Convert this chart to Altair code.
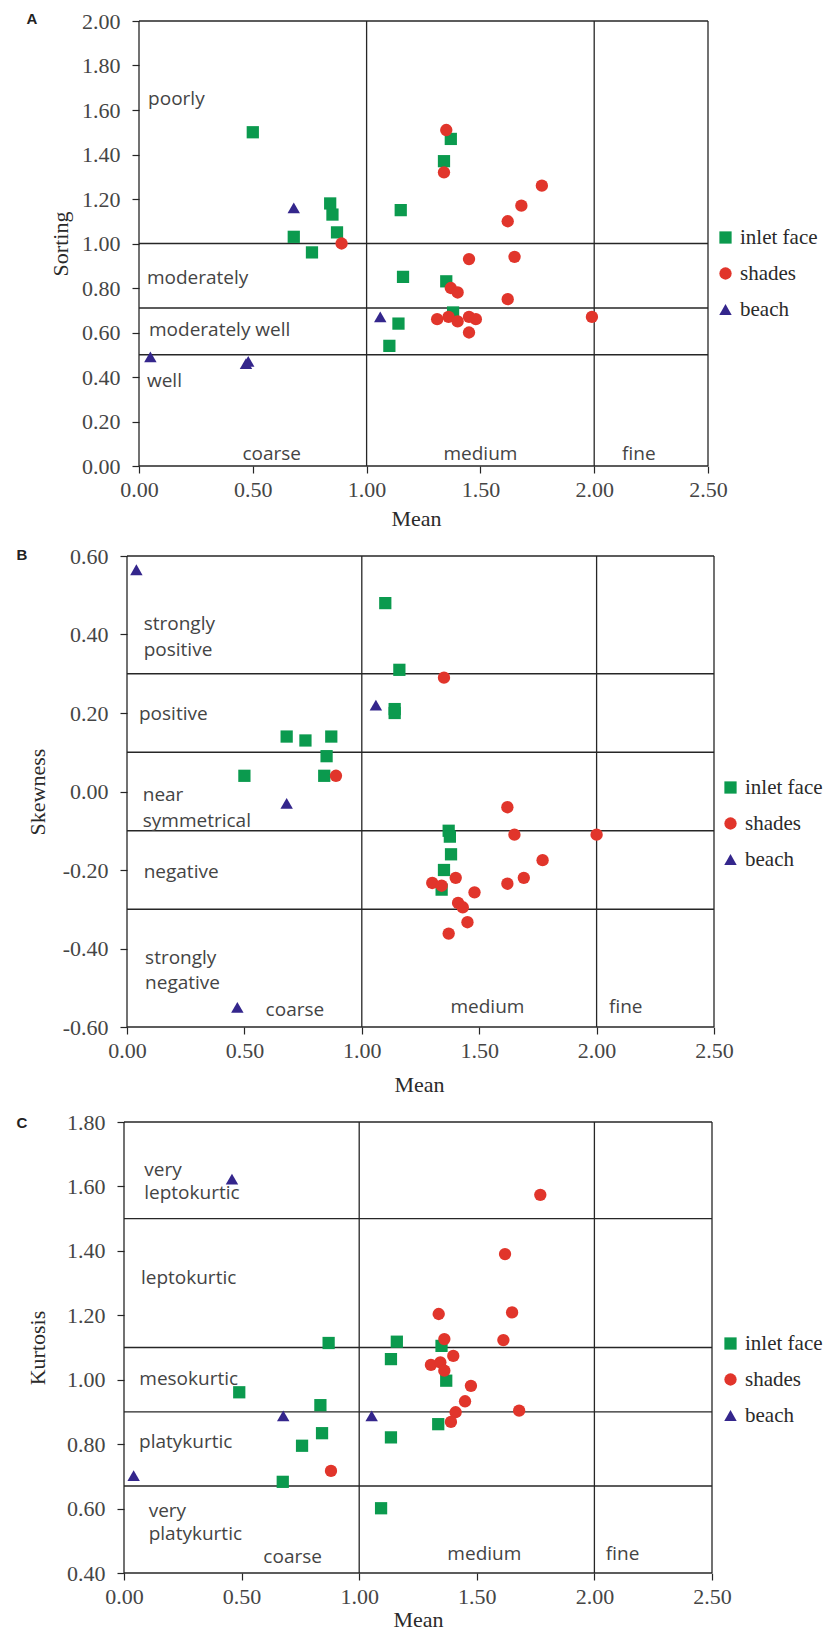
import altair as alt
import pandas as pd

SERIES = ["inlet face", "shades", "beach"]
COLORS = ["#0B9A4E", "#E1352B", "#34268C"]
SHAPES = ["square", "circle", "triangle-up"]
SIZES = [150, 155, 180]
X_TICKS = [0.0, 0.5, 1.0, 1.5, 2.0, 2.5]
SIZE_CLASSES = ["coarse", "medium", "fine"]

# ---------------- Panel A: Sorting ----------------
a_inlet_x = [0.50, 0.84, 0.85, 0.87, 0.68, 0.76, 1.15, 1.37, 1.34, 1.16, 1.14, 1.10, 1.35, 1.38]
a_inlet_y = [1.50, 1.18, 1.13, 1.05, 1.03, 0.96, 1.15, 1.47, 1.37, 0.85, 0.64, 0.54, 0.83, 0.69]
a_shades_x = [0.89, 1.35, 1.34, 1.77, 1.68, 1.62, 1.45, 1.65, 1.37, 1.40, 1.62, 1.31, 1.36, 1.40, 1.45, 1.48, 1.45, 1.99]
a_shades_y = [1.00, 1.51, 1.32, 1.26, 1.17, 1.10, 0.93, 0.94, 0.80, 0.78, 0.75, 0.66, 0.67, 0.65, 0.67, 0.66, 0.60, 0.67]
a_beach_x = [0.68, 1.06, 0.05, 0.47, 0.48]
a_beach_y = [1.16, 0.67, 0.49, 0.46, 0.47]
a_yticks = [0.0, 0.2, 0.4, 0.6, 0.8, 1.0, 1.2, 1.4, 1.6, 1.8, 2.0]
a_hlines = [1.0, 0.71, 0.5]
a_labels = ["poorly", "moderately", "moderately well", "well"]
a_label_x = [0.04, 0.035, 0.044, 0.035]
a_label_y = [1.65, 0.845, 0.613, 0.38]
a_size_x = [0.583, 1.50, 2.196]
a_size_y = [0.055, 0.055, 0.055]

# ---------------- Panel B: Skewness ----------------
b_inlet_x = [1.10, 1.16, 1.14, 1.14, 0.68, 0.76, 0.87, 0.85, 0.50, 0.84, 1.37, 1.375, 1.38, 1.35, 1.34]
b_inlet_y = [0.48, 0.31, 0.21, 0.20, 0.14, 0.13, 0.14, 0.09, 0.04, 0.04, -0.10, -0.115, -0.16, -0.20, -0.25]
b_shades_x = [0.89, 1.35, 1.62, 1.65, 2.00, 1.77, 1.40, 1.69, 1.62, 1.30, 1.34, 1.48, 1.41, 1.43, 1.45, 1.37]
b_shades_y = [0.04, 0.29, -0.04, -0.11, -0.11, -0.175, -0.22, -0.22, -0.235, -0.233, -0.24, -0.257, -0.284, -0.295, -0.333, -0.362]
b_beach_x = [0.04, 1.06, 0.68, 0.47]
b_beach_y = [0.565, 0.22, -0.03, -0.55]
b_yticks = [-0.6, -0.4, -0.2, 0.0, 0.2, 0.4, 0.6]
b_hlines = [0.3, 0.1, -0.1, -0.3]
b_labels = ["strongly", "positive", "positive", "near", "symmetrical", "negative", "strongly", "negative"]
b_label_x = [0.071, 0.071, 0.051, 0.067, 0.067, 0.071, 0.077, 0.077]
b_label_y = [0.427, 0.361, 0.197, -0.01, -0.076, -0.206, -0.424, -0.488]
b_size_x = [0.715, 1.535, 2.124]
b_size_y = [-0.556, -0.549, -0.549]

# ---------------- Panel C: Kurtosis ----------------
c_inlet_x = [0.87, 1.16, 1.135, 1.35, 1.37, 1.336, 0.49, 0.835, 0.842, 1.135, 0.757, 0.675, 1.093]
c_inlet_y = [1.114, 1.118, 1.064, 1.105, 0.997, 0.862, 0.961, 0.921, 0.834, 0.821, 0.795, 0.683, 0.601]
c_shades_x = [1.77, 1.62, 1.338, 1.65, 1.613, 1.362, 1.40, 1.305, 1.345, 1.362, 1.475, 1.45, 1.41, 1.68, 1.39, 0.88]
c_shades_y = [1.574, 1.39, 1.204, 1.209, 1.123, 1.126, 1.074, 1.046, 1.054, 1.028, 0.981, 0.933, 0.899, 0.904, 0.869, 0.717]
c_beach_x = [0.459, 0.677, 1.053, 0.041]
c_beach_y = [1.623, 0.888, 0.888, 0.702]
c_yticks = [0.4, 0.6, 0.8, 1.0, 1.2, 1.4, 1.6, 1.8]
c_hlines = [1.5, 1.1, 0.9, 0.67]
c_labels = ["very", "leptokurtic", "leptokurtic", "mesokurtic", "platykurtic", "very", "platykurtic"]
c_label_x = [0.086, 0.086, 0.072, 0.065, 0.064, 0.105, 0.105]
c_label_y = [1.652, 1.579, 1.315, 1.002, 0.806, 0.593, 0.521]
c_size_x = [0.717, 1.532, 2.12]
c_size_y = [0.449, 0.459, 0.459]

SERIF = "Liberation Serif, Times New Roman, serif"
SANS = "Open Sans"
LINE = "#262626"
LABEL_COLOR = "#444444"
TICK_FONT = 22


def points_df(xs_list, ys_list):
    rows = []
    for name, xs, ys in zip(SERIES, xs_list, ys_list):
        for xv, yv in zip(xs, ys):
            rows.append({"series": name, "mean": xv, "val": yv})
    return pd.DataFrame(rows)


def panel(pts, ydom, yticks, hlines, labels, lx, ly, sx, sy, ytitle, letter,
          letter_xy, ext_px, width, height, ytitle_pad, xtitle_pad, legend_xy):
    ppu = (width - ext_px) / 2.5
    xmin = -ext_px / ppu
    xs = alt.Scale(domain=[xmin, 2.5], nice=False, zero=False)
    ys = alt.Scale(domain=ydom, nice=False, zero=False)
    common = dict(domain=False, grid=False, labelFlush=False,
                  labelFont=SERIF, labelFontSize=TICK_FONT, labelColor="#454545",
                  titleFont=SERIF, titleFontSize=TICK_FONT, titleFontWeight="normal",
                  titleColor="#2a2a2a", tickColor=LINE, tickSize=7, tickWidth=1.2)
    xaxis = alt.Axis(values=X_TICKS, format=".2f", title="Mean", labelPadding=6,
                     titlePadding=xtitle_pad, **common)
    yaxis = alt.Axis(values=yticks, title=ytitle, labelPadding=12,
                     labelExpr="replace(format(datum.value, '.2f'), '\u2212', '-')",
                     offset=-ext_px, titlePadding=ytitle_pad, **common)
    X = alt.X("mean:Q", scale=xs, axis=xaxis)
    Y = alt.Y("val:Q", scale=ys, axis=yaxis)

    leg = alt.Legend(orient="none", legendX=legend_xy[0], legendY=legend_xy[1], title=None,
                     labelFont=SERIF, labelFontSize=21, labelColor="#2a2a2a",
                     symbolSize=150, symbolStrokeWidth=0, rowPadding=14, padding=0,
                     labelOffset=4)
    pts_layer = alt.Chart(pts).mark_point(filled=True, opacity=1, strokeWidth=0).encode(
        x=X, y=Y,
        color=alt.Color("series:N", scale=alt.Scale(domain=SERIES, range=COLORS), legend=leg),
        shape=alt.Shape("series:N", scale=alt.Scale(domain=SERIES, range=SHAPES), legend=leg),
        size=alt.Size("series:N", scale=alt.Scale(domain=SERIES, range=SIZES), legend=None),
    )

    h_df = pd.DataFrame({"val": list(hlines) + [ydom[0], ydom[1]]})
    h_layer = alt.Chart(h_df).mark_rule(color=LINE, strokeWidth=1.3).encode(
        y=Y, x=alt.datum(0.0), x2=alt.datum(2.5))
    v_df = pd.DataFrame({"mean": [0.0, 1.0, 2.0, 2.5]})
    v_layer = alt.Chart(v_df).mark_rule(color=LINE, strokeWidth=1.3).encode(
        x=X, y=alt.datum(ydom[0]), y2=alt.datum(ydom[1]))

    lab_df = pd.DataFrame({"mean": lx, "val": ly, "text": labels})
    lab_layer = alt.Chart(lab_df).mark_text(
        align="left", baseline="middle", font=SANS, fontSize=19, color=LABEL_COLOR
    ).encode(x=X, y=Y, text="text:N")

    size_df = pd.DataFrame({"mean": sx, "val": sy, "text": SIZE_CLASSES})
    size_layer = alt.Chart(size_df).mark_text(
        align="center", baseline="middle", font=SANS, fontSize=19, color=LABEL_COLOR
    ).encode(x=X, y=Y, text="text:N")

    letter_layer = alt.Chart(pd.DataFrame({"t": [letter]})).mark_text(
        align="center", baseline="middle", font="Liberation Sans", fontWeight="bold",
        fontSize=15, color="#222222"
    ).encode(text="t:N", x=alt.value(letter_xy[0]), y=alt.value(letter_xy[1]))

    return alt.layer(h_layer, v_layer, lab_layer, size_layer, pts_layer, letter_layer).properties(
        width=width, height=height)


dfA = points_df([a_inlet_x, a_shades_x, a_beach_x], [a_inlet_y, a_shades_y, a_beach_y])
dfB = points_df([b_inlet_x, b_shades_x, b_beach_x], [b_inlet_y, b_shades_y, b_beach_y])
dfC = points_df([c_inlet_x, c_shades_x, c_beach_x], [c_inlet_y, c_shades_y, c_beach_y])

pA = panel(dfA, [0.0, 2.0], a_yticks, a_hlines, a_labels, a_label_x, a_label_y, a_size_x, a_size_y,
           "Sorting", "A", (-92, -2), 15, 584, 445, 9, 8, (591, 206))
pB = panel(dfB, [-0.6, 0.6], b_yticks, b_hlines, b_labels, b_label_x, b_label_y, b_size_x, b_size_y,
           "Skewness", "B", (-102, -1), 3, 590, 471, 13, 13, (596, 221))
pC = panel(dfC, [0.4, 1.8], c_yticks, c_hlines, c_labels, c_label_x, c_label_y, c_size_x, c_size_y,
           "Kurtosis", "C", (-102, 1), 0, 588, 451, 17, 2, (596, 211))

chart = alt.vconcat(pA, pB, pC, spacing=16).resolve_scale(
    x="independent", y="independent", color="independent", shape="independent", size="independent"
).resolve_legend(color="independent", shape="independent").properties(
    padding={"left": 8, "top": 2, "right": 0, "bottom": 0}
).configure_view(stroke=None)

chart.save("out.html", embed_options={"renderer": "svg", "actions": False})
